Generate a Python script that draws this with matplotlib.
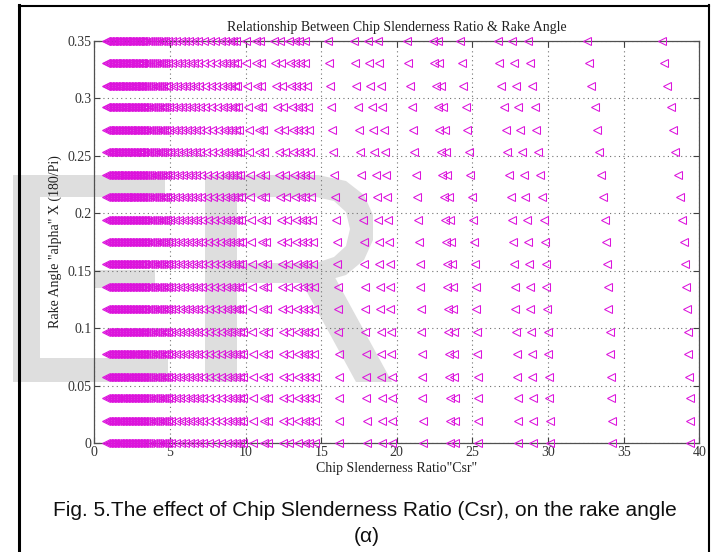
import numpy as np
import matplotlib
matplotlib.use("Agg")
import matplotlib.pyplot as plt
from matplotlib.patches import Polygon, Rectangle

# Rake angle levels (radians)
rake_angle = [0.000, 0.019, 0.039, 0.058, 0.078, 0.097, 0.117, 0.136, 0.156, 0.175,
              0.194, 0.214, 0.233, 0.253, 0.272, 0.292, 0.311, 0.331, 0.350]

# Relative shrink of Csr for each rake angle level (1.0 at zero rake)
row_scale = [1.000, 1.000, 0.9995, 0.998, 0.997, 0.996, 0.994, 0.993, 0.992, 0.989,
             0.987, 0.983, 0.979, 0.975, 0.971, 0.967, 0.961, 0.956, 0.953]

# Chip slenderness ratio values at zero rake
csr_base = [0.80, 0.90, 1.00, 1.10, 1.20, 1.30, 1.40, 1.50, 1.60, 1.70, 1.80, 1.90,
            2.00, 2.10, 2.20, 2.30, 2.40, 2.50, 2.60, 2.70, 2.80, 2.90, 3.00, 3.10,
            3.20, 3.30,
            3.40, 3.55, 3.70, 3.85, 4.00, 4.15, 4.30, 4.45, 4.60, 4.75, 4.90,
            5.10, 5.40, 5.70, 6.00, 6.30, 6.60, 6.90, 7.20,
            7.60, 8.00, 8.40, 8.80, 9.10, 9.40, 9.65, 9.85,
            10.50, 11.20, 11.50, 12.50, 12.90,
            13.50, 13.90, 14.20, 14.60,
            16.20, 18.00, 19.00, 19.70, 21.70, 23.50, 23.85, 25.40,
            28.00, 29.00, 30.10, 34.20, 39.40]

title = "Relationship Between Chip Slenderness Ratio & Rake Angle"
xlabel = 'Chip Slenderness Ratio"Csr"'
ylabel = 'Rake Angle "alpha" X (180/Pi)'
caption_1 = "Fig. 5.The effect of Chip Slenderness Ratio (Csr), on the rake angle"
caption_2 = "(\u03b1)"
xticks = [0, 5, 10, 15, 20, 25, 30, 35, 40]
yticks = [0, 0.05, 0.1, 0.15, 0.2, 0.25, 0.3, 0.35]
yticklabels = ["0", "0.05", "0.1", "0.15", "0.2", "0.25", "0.3", "0.35"]

W, H = 716, 552
fig = plt.figure(figsize=(W / 100, H / 100), dpi=100)
fig.patch.set_facecolor("white")


def px(x, y):
    """pixel position (origin top-left) -> figure fraction"""
    return (x / W, 1 - y / H)


# light grey "ER" watermark lettering behind the plot
wm = "#dedede"


def rect(x0, y0, x1, y1):
    a, b = px(x0, y1)
    fig.patches.append(Rectangle((a, b), (x1 - x0) / W, (y1 - y0) / H,
                                 transform=fig.transFigure, facecolor=wm,
                                 edgecolor="none", zorder=-5))


def poly(pts):
    fig.patches.append(Polygon([px(*p) for p in pts], closed=True,
                               transform=fig.transFigure, facecolor=wm,
                               edgecolor="none", zorder=-5))


# E
rect(13, 175, 40, 382)
rect(13, 175, 165, 197)
rect(94, 270, 155, 288)
rect(13, 358, 168, 382)
# R: stem, bowl, leg
rect(205, 175, 237, 382)
bowl_outer = [(237, 175), (318, 175), (346, 181), (364, 195), (373, 215), (373, 240),
              (364, 260), (346, 275), (318, 283), (237, 283)]
bowl_inner = [(237, 263), (316, 263), (334, 257), (346, 246), (350, 229), (346, 212),
              (334, 201), (316, 197), (237, 197)]
poly(bowl_outer + bowl_inner)
poly([(296, 272), (332, 272), (392, 382), (356, 382)])

ax = fig.add_axes([94.3 / W, 1 - 443.3 / H, (699.3 - 94.3) / W, (443.3 - 40.7) / H])
ax.set_facecolor("none")

for a, s in zip(rake_angle, row_scale):
    xs = np.array(csr_base) * s
    ax.plot(xs, np.full(xs.shape, a), linestyle="none", marker="<", markersize=5.5,
            markerfacecolor="none", markeredgecolor="#dc14dc", markeredgewidth=0.75,
            clip_on=False, zorder=3)

ax.set_xlim(0, 40)
ax.set_ylim(0, 0.35)
ax.set_xticks(xticks)
ax.set_yticks(yticks)
ax.set_yticklabels(yticklabels)
ax.grid(True, linestyle=(0, (1, 3)), color="#707070", linewidth=0.8)
ax.tick_params(direction="in", top=True, right=True, length=4, width=0.8,
               labelsize=10, colors="#404040", pad=2)
for lab in ax.get_xticklabels() + ax.get_yticklabels():
    lab.set_family("Liberation Serif")
    lab.set_color("#333333")
for sp in ax.spines.values():
    sp.set_color("#505050")
    sp.set_linewidth(0.9)

ax.set_title(title, family="Liberation Serif", fontsize=10, color="#202020", pad=7)
ax.set_xlabel(xlabel, family="Liberation Serif", fontsize=10, color="#202020", labelpad=2)
ax.set_ylabel(ylabel, family="Liberation Serif", fontsize=10, color="#202020", labelpad=4)

fig.text(365 / W, 1 - 511 / H, caption_1, family="Liberation Sans", fontsize=15,
         ha="center", va="center", color="#101010")
fig.text(367 / W, 1 - 537 / H, caption_2, family="Liberation Sans", fontsize=15,
         ha="center", va="center", color="#101010")

# outer frame
fig.add_artist(plt.Line2D([18.5 / W, 18.5 / W], [0, 1 - 5 / H], transform=fig.transFigure,
                          color="black", linewidth=2.2))
fig.add_artist(plt.Line2D([18.5 / W, 709 / W], [1 - 5.5 / H, 1 - 5.5 / H],
                          transform=fig.transFigure, color="black", linewidth=1.5))
fig.add_artist(plt.Line2D([709 / W, 709 / W], [0, 1 - 5 / H], transform=fig.transFigure,
                          color="black", linewidth=1.5))

fig.savefig("out.png", dpi=100)
